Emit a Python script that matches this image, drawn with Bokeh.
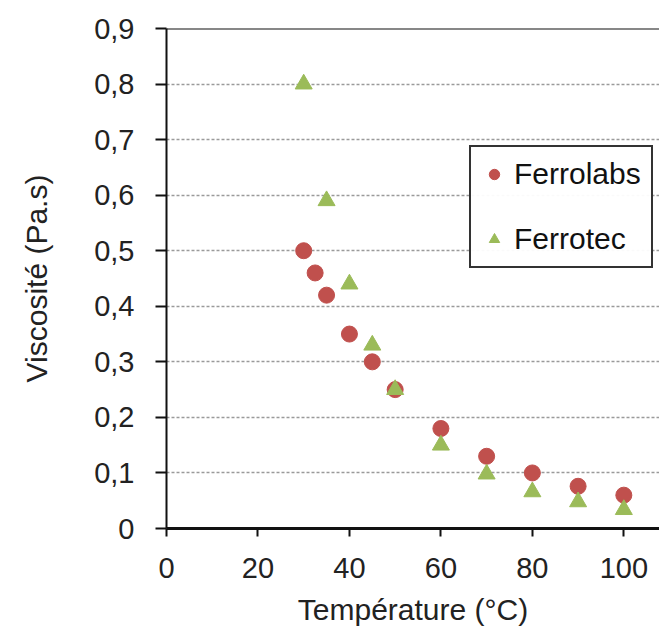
from bokeh.plotting import figure
from bokeh.models import ColumnDataSource, Range1d, FixedTicker, Span, Legend, LegendItem
from bokeh.embed import file_html
from bokeh.resources import INLINE

# Data
temp_labs = [30, 32.5, 35, 40, 45, 50, 60, 70, 80, 90, 100]
visc_labs = [0.50, 0.46, 0.42, 0.35, 0.30, 0.25, 0.18, 0.13, 0.10, 0.076, 0.060]
temp_tec = [30, 35, 40, 45, 50, 60, 70, 80, 90, 100]
visc_tec = [0.80, 0.59, 0.44, 0.33, 0.25, 0.15, 0.098, 0.066, 0.048, 0.034]
x_ticks = [0, 20, 40, 60, 80, 100]
y_ticks = [0, 0.1, 0.2, 0.3, 0.4, 0.5, 0.6, 0.7, 0.8, 0.9]
y_tick_labels = ["0", "0,1", "0,2", "0,3", "0,4", "0,5", "0,6", "0,7", "0,8", "0,9"]

FONT = "Liberation Sans"

p = figure(width=659, height=633, output_backend="svg", toolbar_location=None,
           x_range=Range1d(0, 107.8), y_range=Range1d(0, 0.9),
           min_border_left=166, min_border_top=28, min_border_right=0, min_border_bottom=105)
p.outline_line_color = None
p.background_fill_color = "white"
p.border_fill_color = "white"

# grids
p.xgrid.grid_line_color = None
p.ygrid.ticker = FixedTicker(ticks=y_ticks[1:-1])
p.ygrid.grid_line_color = "#9a9a9a"
p.ygrid.grid_line_dash = "3 2"
p.ygrid.grid_line_width = 1.5

top = Span(location=0.9, dimension="width", line_color="#111111", line_width=2)
p.add_layout(top)

# axes
p.xaxis.ticker = FixedTicker(ticks=x_ticks)
p.yaxis.ticker = FixedTicker(ticks=y_ticks)
p.yaxis.major_label_overrides = {t: l for t, l in zip(y_ticks, y_tick_labels)}
for ax in (p.xaxis[0], p.yaxis[0]):
    ax.axis_line_color = "#111111"
    ax.major_tick_line_color = "#111111"
    ax.major_tick_line_width = 2
    ax.minor_tick_line_color = None
    ax.major_tick_in = 0
    ax.major_label_text_font = FONT
    ax.major_label_text_font_size = "29px"
    ax.major_label_text_color = "#222222"
    ax.axis_label_text_font = FONT
    ax.axis_label_text_font_size = "30px"
    ax.axis_label_text_font_style = "normal"
    ax.axis_label_text_color = "#222222"
p.xaxis.axis_line_width = 3
p.yaxis.axis_line_width = 2
p.yaxis.major_tick_out = 11
p.xaxis.major_tick_out = 8
p.yaxis.major_label_standoff = 21
p.xaxis.major_label_standoff = 21
p.xaxis.axis_label = "Température (°C)"
p.yaxis.axis_label = "Viscosité (Pa.s)"
p.xaxis.axis_label_standoff = 12
p.yaxis.axis_label_standoff = 38

src_labs = ColumnDataSource(dict(x=temp_labs, y=visc_labs))
src_tec = ColumnDataSource(dict(x=temp_tec, y=visc_tec))
r1 = p.scatter("x", "y", source=src_labs, marker="circle", size=16,
               fill_color="#C0504D", line_color="#C0504D")
r2 = p.scatter("x", "y", source=src_tec, marker="triangle", size=17,
               fill_color="#9BBB59", line_color="#9BBB59")

legend = Legend(items=[LegendItem(label="Ferrolabs", renderers=[r1]),
                       LegendItem(label="Ferrotec", renderers=[r2])],
                location=(303, 260))
legend.label_text_font = FONT
legend.label_text_font_size = "30px"
legend.label_text_color = "#111111"
legend.border_line_color = "#333333"
legend.border_line_alpha = 1.0
legend.border_line_width = 2
legend.glyph_width = 26
legend.glyph_height = 26
legend.label_standoff = 7
legend.spacing = 31
legend.padding = 10
legend.margin = 0
legend.label_height = 30
p.add_layout(legend)

open("out.html", "w").write(file_html(p, INLINE))
